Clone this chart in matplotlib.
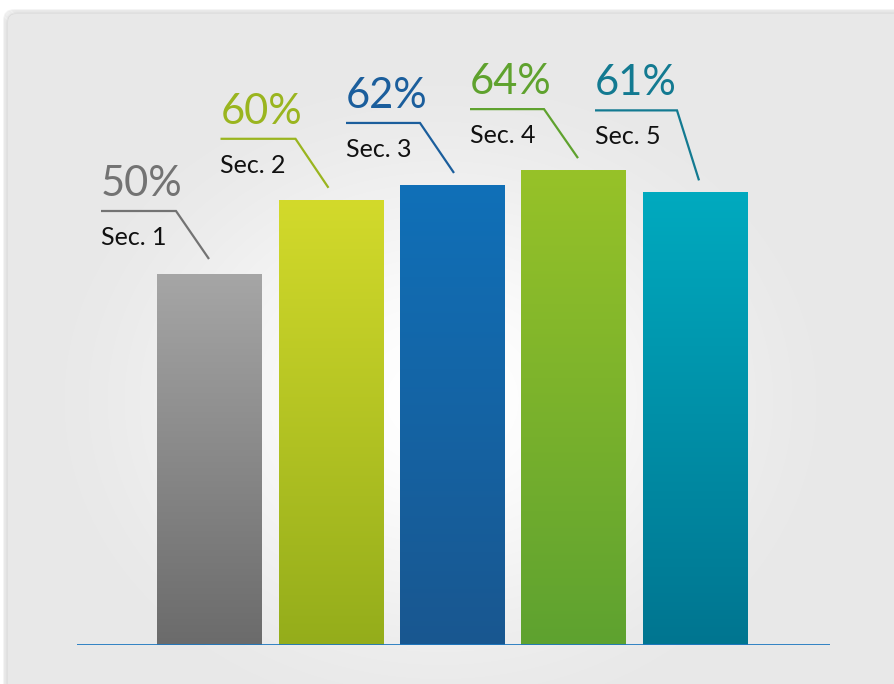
import numpy as np
import matplotlib
matplotlib.use("Agg")
import matplotlib.pyplot as plt
from matplotlib import transforms
from matplotlib.patches import FancyBboxPatch
from matplotlib.colors import to_rgb

# ---- data -------------------------------------------------------------
categories = ["Sec. 1", "Sec. 2", "Sec. 3", "Sec. 4", "Sec. 5"]
values = [50, 60, 62, 64, 61]
value_labels = ["50%", "60%", "62%", "64%", "61%"]

# ---- styling ----------------------------------------------------------
bar_top_colors = ["#a6a6a6", "#d3da2b", "#1070b8", "#97c228", "#00aabf"]
bar_bottom_colors = ["#6b6b6b", "#94ad1b", "#195790", "#5ea230", "#007590"]
accent_colors = ["#737373", "#9ab51f", "#1b5e9c", "#5fa22e", "#137a91"]

# callout polyline (pixel offsets from the bar's top centre): tip, elbow, arm end
callout_tip = [(-0.5, 15), (-2.5, 12), (1.5, 12), (4, 12), (3.5, 12)]
callout_elbow = [(-33.5, 63), (-35.5, 61), (-32.5, 62), (-30, 61), (-18.5, 82)]
callout_end = [(-108.5, 63), (-110.5, 61), (-106.5, 62), (-104, 61), (-100.5, 82)]

W, H, DPI = 894, 684, 100
FONT = ["Lato", "DejaVu Sans"]

fig = plt.figure(figsize=(W / DPI, H / DPI), dpi=DPI)
fig.patch.set_facecolor("white")

# ---- background card with soft radial gradient ------------------------
bg = fig.add_axes([0, 0, 1, 1])
bg.set_xlim(0, W)
bg.set_ylim(H, 0)
bg.axis("off")

card_x0, card_y0 = 8, 14
for i, a in enumerate([0.05, 0.05, 0.06, 0.08]):
    off = 4 - i
    sh = FancyBboxPatch((card_x0 - off, card_y0 - off), W + 40, H + 40,
                        boxstyle="round,pad=0,rounding_size=10",
                        facecolor="none", edgecolor=(0, 0, 0, a), lw=1.2)
    bg.add_patch(sh)

card = FancyBboxPatch((card_x0, card_y0), W + 40, H + 40,
                      boxstyle="round,pad=0,rounding_size=8",
                      facecolor="#e8e8e8", edgecolor="#d9d9d9", lw=1.0)
bg.add_patch(card)

yy, xx = np.mgrid[0:H, 0:W]
cx, cy = 440, 400
r = np.sqrt(((xx - cx) / 430.0) ** 2 + ((yy - cy) / 360.0) ** 2)
t = np.clip(r, 0, 1)
t = t * t * (3 - 2 * t)
white = np.array([1.0, 1.0, 1.0])
gray = np.array(to_rgb("#e8e8e8"))
img = white[None, None, :] * (1 - t[..., None]) + gray[None, None, :] * t[..., None]
im = bg.imshow(img, extent=(0, W, H, 0), interpolation="bilinear", zorder=1)
im.set_clip_path(card)
bg.set_xlim(0, W)
bg.set_ylim(H, 0)

# ---- chart axes ---------------------------------------------------------
px_per_pct = 7.42
y_max = 80
base_px = 645              # baseline, pixels from the top
ax_left, ax_right = 77, 830
slot = 121.5               # pixel distance between bar centres
first_centre = 209.5
x_lo = (ax_left - first_centre) / slot
x_hi = (ax_right - first_centre) / slot

ax = fig.add_axes([ax_left / W, (H - base_px) / H,
                   (ax_right - ax_left) / W, y_max * px_per_pct / H])
ax.set_facecolor("none")
ax.axis("off")

x = np.arange(len(categories))
bar_w = 105 / slot
bars = ax.bar(x, values, width=bar_w, color="none", edgecolor="none", zorder=2)

for b, c_top, c_bot in zip(bars, bar_top_colors, bar_bottom_colors):
    top = np.array(to_rgb(c_top))
    bot = np.array(to_rgb(c_bot))
    s = np.linspace(0, 1, 256)[:, None]
    grad = (top * (1 - s) + bot * s)[:, None, :]
    x0, w_, h_ = b.get_x(), b.get_width(), b.get_height()
    gi = ax.imshow(grad, extent=(x0, x0 + w_, 0, h_), origin="upper",
                   aspect="auto", interpolation="bilinear", zorder=2)
    gi.set_clip_path(b)

ax.set_xlim(x_lo, x_hi)
ax.set_ylim(0, y_max)

ax.axhline(0, color="#1f78c0", lw=2.0, zorder=4)

# ---- callouts -----------------------------------------------------------
for xi, v, lab, cat, col, tip, elb, end in zip(
        x, values, value_labels, categories, accent_colors,
        callout_tip, callout_elbow, callout_end):
    anchor = transforms.Affine2D() + transforms.ScaledTranslation(xi, v, ax.transData)
    xs = [tip[0], elb[0], end[0]]
    ys = [tip[1], elb[1], end[1]]
    ax.plot(xs, ys, color=col, lw=1.6, transform=anchor, clip_on=False,
            solid_capstyle="butt", solid_joinstyle="miter", zorder=5)
    ax.text(end[0], end[1] + 15, lab, transform=anchor, color=col,
            fontsize=30, family=FONT, ha="left", va="baseline", clip_on=False)
    ax.text(end[0], end[1] - 34, cat, transform=anchor, color="#111111",
            fontsize=18, family=FONT, ha="left", va="baseline", clip_on=False)

fig.savefig("out.png", dpi=DPI, facecolor="white")
